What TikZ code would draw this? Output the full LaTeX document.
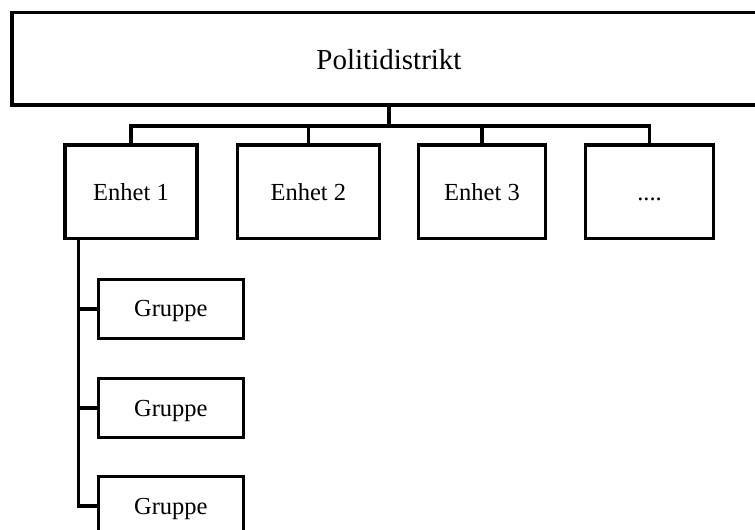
\documentclass[tikz,border=0pt]{standalone}
\usepackage{fontspec}
\setmainfont{Liberation Serif}
\begin{document}
\begin{tikzpicture}[x=1pt,y=-1pt,
  box/.style={draw, line width=3.5pt, line join=miter, rectangle, inner sep=0pt},
  unit/.style={box, minimum height=93.5pt, font=\fontsize{24.5}{29}\selectfont, text height=18pt, text depth=0pt},
  grp/.style={box, minimum width=145pt, minimum height=59pt, font=\fontsize{24.5}{29}\selectfont, text height=16pt, text depth=0pt},
  link/.style={line width=3.5pt, line join=miter}]
\useasboundingbox (0,0) rectangle (755,530);
\clip (0,0) rectangle (755,530);
% top box
\node[box, minimum width=754pt, minimum height=92.5pt, font=\fontsize{29}{35}\selectfont, text height=21pt, text depth=0pt] (dist) at (389,58.75) {Politidistrikt};
% units
\node[unit, minimum width=132pt] (e1) at (131,191.75) {Enhet 1};
\node[unit, minimum width=142pt] (e2) at (308.3,191.75) {Enhet 2};
\node[unit, minimum width=127.4pt] (e3) at (482,191.75) {Enhet 3};
\node[unit, minimum width=127.6pt] (e4) at (649.5,191.75) {....};
% groups
\node[grp] (g1) at (170.8,308.8) {Gruppe};
\node[grp] (g2) at (170.8,408) {Gruppe};
\node[grp] (g3) at (170.8,506.2) {Gruppe};
% connectors
\coordinate (bus) at (0,126);
\coordinate (trunk) at (78.5,0);
\draw[link] (dist.south) -- (dist.south |- bus);
\draw[link] (e1.north) -- (e1.north |- bus) -- (e4.north |- bus) -- (e4.north);
\draw[link] (e2.north) -- (e2.north |- bus);
\draw[link] (e3.north) -- (e3.north |- bus);
\draw[link] (trunk |- e1.south) -- (trunk |- g3.west) -- (g3.west);
\draw[link] (trunk |- g1.west) -- (g1.west);
\draw[link] (trunk |- g2.west) -- (g2.west);
\end{tikzpicture}
\end{document}
